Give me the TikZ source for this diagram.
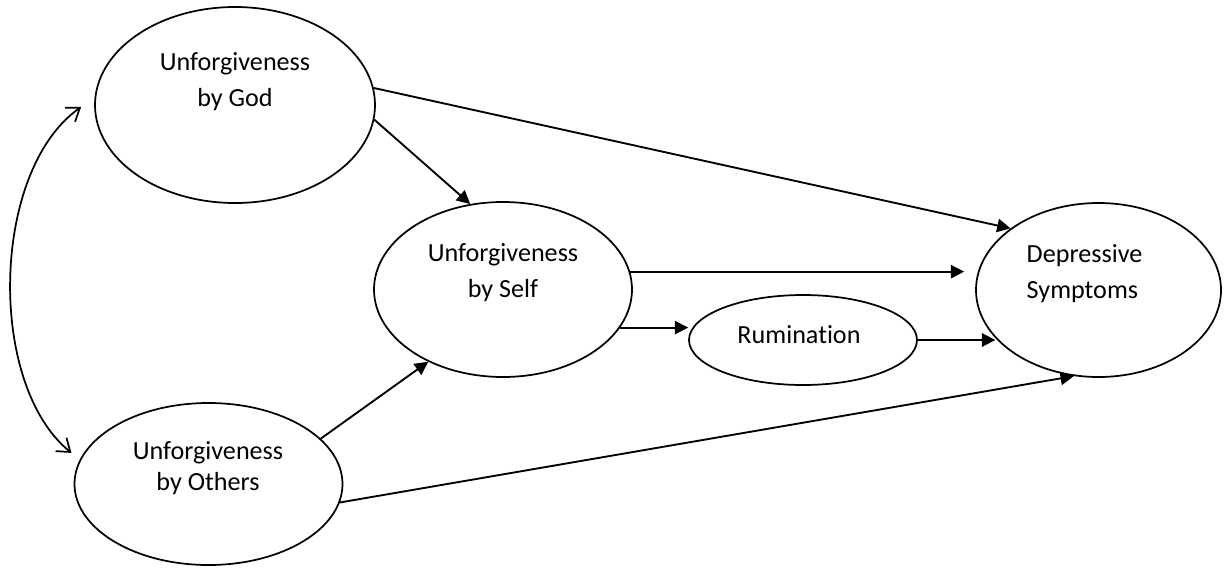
\documentclass[tikz,border=0pt]{standalone}
\usepackage{fontspec}
\setmainfont[Ligatures=NoCommon]{Carlito}
\usetikzlibrary{arrows.meta,shapes.geometric,calc}
\begin{document}
\begin{tikzpicture}[x=0.75pt,y=-0.75pt,
  oval/.style={ellipse,draw,line width=1.3pt,inner sep=0pt},
  lbl/.style={font=\fontsize{19.6}{27}\selectfont,align=center,inner sep=0pt},
  arr/.style={line width=1.4pt,-{Triangle[length=10pt,width=10pt]}},
  cov/.style={line width=1.3pt,{Straight Barb[length=9pt,width=13pt]}-{Straight Barb[length=9pt,width=13pt]}}]
\path[use as bounding box, fill=white] (0,0) rectangle (1230,568);
% ellipses
\node[oval,minimum width=210pt,minimum height=147pt] (god) at (235,105) {};
\node[oval,minimum width=193.5pt,minimum height=131.25pt] (self) at (503,289.5) {};
\node[oval,minimum width=201pt,minimum height=121.5pt] (others) at (208.5,484) {};
\node[oval,minimum width=171pt,minimum height=67.5pt] (rum) at (803,340) {};
\node[oval,minimum width=183.75pt,minimum height=130.5pt] (dep) at (1098.5,290) {};
% labels
\node[lbl] (godt) at (235,82) {Unforgiveness\\by God};
\node[lbl] (selft) at (503,272.5) {Unforgiveness\\by Self};
\node[lbl,font=\fontsize{19.6}{23.25}\selectfont] (otherst) at (208,468) {Unforgiveness\\by Others};
\node[lbl] (rumt) at (799,334.5) {Rumination};
\node[lbl,align=left] (dept) at (1084.5,274) {Depressive\\Symptoms};
% paths
\draw[arr] (god.7) -- (dep.145);
\draw[arr] (god.-6) -- (self.111);
\draw[arr,shorten >=8.25pt] (self.8) -- (self.8 -| dep.west);
\draw[arr] (self.-18) -- (self.-18 -| rum.west);
\draw[arr] (rum.east) -- (dep.205 |- rum.east);
\draw[arr] (others.22) -- (self.224);
\draw[arr] (others.-8) -- (dep.254);
% covariance
\draw[cov] ([shift={(-13,2)}]god.west) .. controls +(-90,63) and +(-85,-69) .. ([shift={(-11,-2)}]others.167);
\end{tikzpicture}
\end{document}
